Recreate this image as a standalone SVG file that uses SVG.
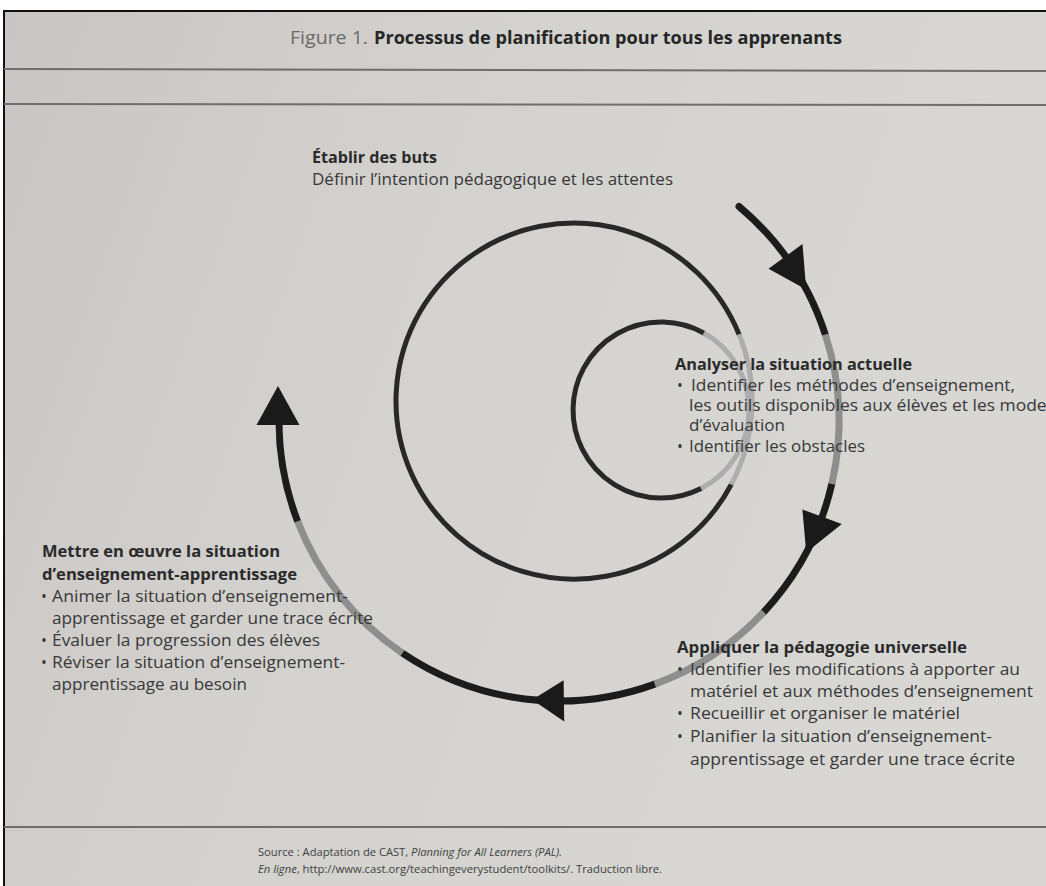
<svg xmlns="http://www.w3.org/2000/svg" width="1046" height="886" viewBox="0 0 1046 886">
  <defs>
    <linearGradient id="paper" x1="0" y1="0" x2="1" y2="0.3">
      <stop offset="0" stop-color="#c9c5c4"/>
      <stop offset="0.45" stop-color="#d4d2cf"/>
      <stop offset="1" stop-color="#d8d7d4"/>
    </linearGradient>
    <style>
      .t { font-family: "Open Sans", "Liberation Sans", sans-serif; font-size: 15.5px; fill: #383838; }
      .b { font-weight: bold; fill: #2a2a2a; }
      .src { font-family: "Open Sans", "Liberation Sans", sans-serif; font-size: 11px; fill: #404040; }
      .it { font-style: italic; }
      .rule { stroke: #6e6e6e; stroke-width: 2; fill: none; }
      .dk { fill: none; stroke: #1c1c1c; stroke-width: 7; stroke-linecap: round; }
      .gy { fill: none; stroke: #8e8e8e; stroke-width: 7; stroke-linecap: butt; }
      .rdk { fill: none; stroke: #282828; stroke-width: 5; stroke-linecap: round; }
      .rgy { fill: none; stroke: #adadad; stroke-width: 5; stroke-linecap: butt; }
      .ah { fill: #1a1a1a; }
    </style>
  </defs>

  <rect x="0" y="0" width="1046" height="886" fill="#ffffff"/>
  <rect x="4" y="11" width="1042" height="875" fill="url(#paper)"/>
  <path d="M4,886 L4,11 L1046,11" fill="none" stroke="#111" stroke-width="2"/>
  <line class="rule" x1="4" y1="69" x2="1046" y2="71"/>
  <line class="rule" x1="4" y1="104" x2="1046" y2="105"/>
  <line class="rule" x1="4" y1="827" x2="1046" y2="827"/>

  <g id="title">
    <text x="290" y="44" style="font-family:'Open Sans','Liberation Sans',sans-serif;font-size:18px;fill:#6a6a6a" textLength="78" lengthAdjust="spacingAndGlyphs">Figure 1.</text>
    <text x="374" y="44" style="font-family:'Open Sans','Liberation Sans',sans-serif;font-size:18px;font-weight:bold;fill:#262626" textLength="468" lengthAdjust="spacingAndGlyphs">Processus de planification pour tous les apprenants</text>
  </g>

  <g id="connectors">
    <path class="rdk" d="M703.7,333.0 A88,88 0 1 0 701.0,488.4"/>
    <path class="rgy" d="M703.7,333.0 A88,88 0 0 1 701.0,488.4"/>
    <path class="rdk" d="M739.0,334.3 A178,178 0 1 0 731.2,484.6"/>
    <path class="rgy" d="M739.0,334.3 A178,178 0 0 1 731.2,484.6"/>
    <path class="dk" d="M739.0,206.5 A280,280 0 0 1 825.3,334.5"/>
    <path class="dk" d="M831.8,484.0 A280,280 0 0 1 763.8,612.0"/>
    <path class="dk" d="M654.8,684.1 A280,280 0 0 1 402.4,653.1"/>
    <path class="dk" d="M297.6,521.3 A280,280 0 0 1 279,421 L278.5,405"/>
    <path class="gy" d="M825.3,334.5 A280,280 0 0 1 831.8,484.0"/>
    <path class="gy" d="M763.8,612.0 A280,280 0 0 1 654.8,684.1"/>
    <path class="gy" d="M402.4,653.1 A280,280 0 0 1 297.6,521.3"/>
    <polygon class="ah" points="802.5,244.0 768.5,268.8 806.2,289.5"/>
    <polygon class="ah" points="841.8,524.0 802.4,509.6 806.2,552.5"/>
    <polygon class="ah" points="564.2,721.5 563.6,680.3 532.2,699.7"/>
    <polygon class="ah" points="256.5,425 299.5,425 278,386"/>
  </g>

  <g id="etablir">
    <text class="t b" x="312" y="163" textLength="125" lengthAdjust="spacingAndGlyphs">Établir des buts</text>
    <text class="t" x="312" y="185" textLength="361" lengthAdjust="spacingAndGlyphs">Définir l’intention pédagogique et les attentes</text>
  </g>

  <g id="analyser">
    <text class="t b" x="675" y="370" textLength="237" lengthAdjust="spacingAndGlyphs">Analyser la situation actuelle</text>
    <text class="t" x="677" y="391">•</text>
    <text class="t" x="691" y="391" textLength="324" lengthAdjust="spacingAndGlyphs">Identifier les méthodes d’enseignement,</text>
    <text class="t" x="689" y="411" textLength="366" lengthAdjust="spacingAndGlyphs">les outils disponibles aux élèves et les modes</text>
    <text class="t" x="689" y="431" textLength="96" lengthAdjust="spacingAndGlyphs">d’évaluation</text>
    <text class="t" x="677" y="452">•</text>
    <text class="t" x="689" y="452" textLength="176" lengthAdjust="spacingAndGlyphs">Identifier les obstacles</text>
  </g>

  <g id="appliquer">
    <text class="t b" x="677" y="653" textLength="290" lengthAdjust="spacingAndGlyphs">Appliquer la pédagogie universelle</text>
    <text class="t" x="677" y="675">•</text>
    <text class="t" x="690" y="675" textLength="330" lengthAdjust="spacingAndGlyphs">Identifier les modifications à apporter au</text>
    <text class="t" x="690" y="697" textLength="343" lengthAdjust="spacingAndGlyphs">matériel et aux méthodes d’enseignement</text>
    <text class="t" x="677" y="719">•</text>
    <text class="t" x="690" y="719" textLength="270" lengthAdjust="spacingAndGlyphs">Recueillir et organiser le matériel</text>
    <text class="t" x="677" y="742">•</text>
    <text class="t" x="690" y="742" textLength="302" lengthAdjust="spacingAndGlyphs">Planifier la situation d’enseignement-</text>
    <text class="t" x="690" y="765" textLength="325" lengthAdjust="spacingAndGlyphs">apprentissage et garder une trace écrite</text>
  </g>

  <g id="mettre">
    <text class="t b" x="42" y="557" textLength="238" lengthAdjust="spacingAndGlyphs">Mettre en œuvre la situation</text>
    <text class="t b" x="42" y="580" textLength="255" lengthAdjust="spacingAndGlyphs">d’enseignement-apprentissage</text>
    <text class="t" x="41" y="602">•</text>
    <text class="t" x="52" y="602" textLength="296" lengthAdjust="spacingAndGlyphs">Animer la situation d’enseignement-</text>
    <text class="t" x="52" y="624" textLength="321" lengthAdjust="spacingAndGlyphs">apprentissage et garder une trace écrite</text>
    <text class="t" x="41" y="646">•</text>
    <text class="t" x="52" y="646" textLength="268" lengthAdjust="spacingAndGlyphs">Évaluer la progression des élèves</text>
    <text class="t" x="41" y="668">•</text>
    <text class="t" x="52" y="668" textLength="293" lengthAdjust="spacingAndGlyphs">Réviser la situation d’enseignement-</text>
    <text class="t" x="52" y="690" textLength="195" lengthAdjust="spacingAndGlyphs">apprentissage au besoin</text>
  </g>

  <g id="source">
    <text class="src" x="258" y="856" textLength="304" lengthAdjust="spacingAndGlyphs">Source : Adaptation de CAST, <tspan class="it">Planning for All Learners (PAL).</tspan></text>
    <text class="src" x="258" y="873" textLength="404" lengthAdjust="spacingAndGlyphs"><tspan class="it">En ligne</tspan>, http://www.cast.org/teachingeverystudent/toolkits/. Traduction libre.</text>
  </g>
</svg>
